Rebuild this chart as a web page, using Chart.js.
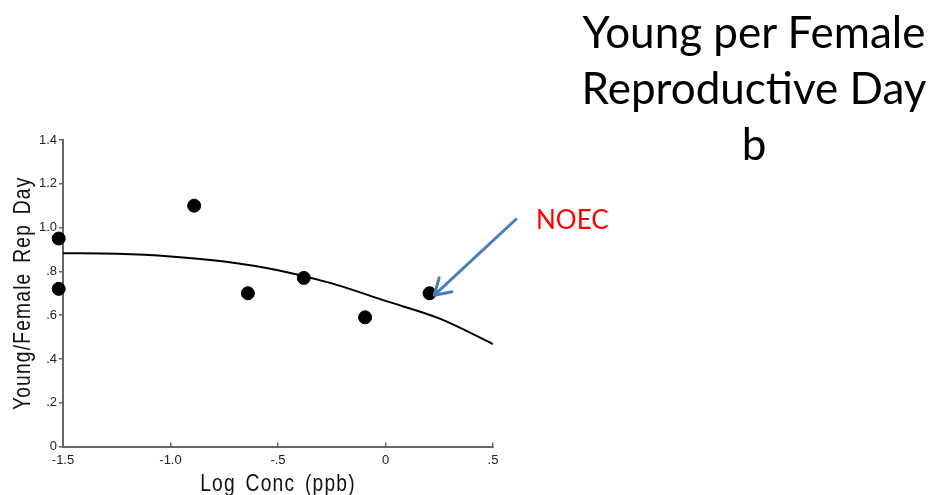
<!DOCTYPE html>
<html>
<head>
<meta charset="utf-8">
<script src="https://cdn.jsdelivr.net/npm/chart.js@4"></script>
<style>
  body { margin: 0; background: #fff; }
  .wrap { position: relative; width: 930px; height: 495px; }
  #chart { position: absolute; left: 0; top: 0; }
  .title { position: absolute; left: 559px; width: 390px; top: 3px; text-align: center;
    font-family: Lato, sans-serif; font-size: 44px; line-height: 56px; color: #000; }
  .noec { position: absolute; left: 536px; top: 203px; font-family: Lato, sans-serif;
    font-size: 26px; color: #ff0000; }
</style>
</head>
<body>
<div class="wrap">
  <canvas id="chart" width="930" height="495"></canvas>
  <div class="title">Young per Female<br>Reproductive Day<br>b</div>
  <div class="noec">NOEC</div>
</div>
<script>
// observed points (left pair kept apart so chart.js treats data as unsorted and draws both)
const concX = [-1.52, -0.89, -0.64, -0.38, -0.095, 0.205, -1.52];
const youngY = [0.95, 1.10, 0.70, 0.77, 0.59, 0.70, 0.72];
// fitted curve
const fitX = [-1.5, -1.25, -1.0, -0.75, -0.5, -0.25, 0, 0.25, 0.5];
const fitY = [0.883, 0.880, 0.868, 0.845, 0.805, 0.745, 0.665, 0.585, 0.468];
// NOEC arrow, data units
const arrowFrom = [0.607, 1.038];
const arrowTo = [0.227, 0.691];
const xTitle = 'Log Conc (ppb)';
const yTitle = 'Young/Female Rep Day';

const fmt = v => {
  if (Math.abs(v) < 1e-9) return '0';
  let s = v.toFixed(1);
  return s.replace(/^(-?)0\./, '$1.');
};

const arrowPlugin = {
  id: 'arrow',
  afterDatasetsDraw(chart) {
    const { ctx, scales: { x, y } } = chart;
    const x1 = x.getPixelForValue(arrowFrom[0]), y1 = y.getPixelForValue(arrowFrom[1]);
    const x2 = x.getPixelForValue(arrowTo[0]), y2 = y.getPixelForValue(arrowTo[1]);
    const a = Math.atan2(y2 - y1, x2 - x1);
    ctx.save();
    ctx.strokeStyle = '#4a7ebb';
    ctx.lineWidth = 3;
    ctx.lineCap = 'round';
    ctx.beginPath();
    ctx.moveTo(x1, y1);
    ctx.lineTo(x2, y2);
    [-0.55, 0.55].forEach(d => {
      ctx.moveTo(x2, y2);
      ctx.lineTo(x2 - 18 * Math.cos(a + d), y2 - 18 * Math.sin(a + d));
    });
    ctx.stroke();
    ctx.restore();
  }
};

// condensed, letter-spaced axis titles like the original
const axisTitles = {
  id: 'axisTitles',
  afterDraw(chart) {
    const { ctx, chartArea } = chart;
    const put = (txt, cx, cy, rot) => {
      ctx.save();
      ctx.translate(cx, cy);
      if (rot) ctx.rotate(-Math.PI / 2);
      ctx.scale(0.8, 1);
      ctx.fillStyle = '#111';
      ctx.font = '24px "Liberation Sans", Arial, sans-serif';
      ctx.letterSpacing = '1.5px';
      ctx.wordSpacing = '4px';
      ctx.textAlign = 'center';
      ctx.textBaseline = 'alphabetic';
      ctx.fillText(txt, 0, 0);
      ctx.restore();
    };
    put(xTitle, (chartArea.left + chartArea.right) / 2, 491, false);
    put(yTitle, 30, (chartArea.top + chartArea.bottom) / 2, true);
  }
};

new Chart(document.getElementById('chart'), {
  type: 'scatter',
  data: {
    datasets: [{
      data: concX.map((v, i) => ({ x: v, y: youngY[i] })),
      backgroundColor: '#000',
      borderColor: '#000',
      pointRadius: 6.5,
      clip: false
    }, {
      type: 'line',
      data: fitX.map((v, i) => ({ x: v, y: fitY[i] })),
      borderColor: '#000',
      borderWidth: 2,
      pointRadius: 0,
      cubicInterpolationMode: 'monotone',
      fill: false
    }]
  },
  options: {
    responsive: false,
    animation: false,
    layout: { padding: { left: 0, top: 140, right: 437, bottom: 0 } },
    plugins: { legend: { display: false }, tooltip: { enabled: false } },
    scales: {
      x: {
        type: 'linear', min: -1.5, max: 0.5,
        ticks: { stepSize: 0.5, callback: fmt, color: '#222', padding: 10,
          font: { family: 'Liberation Sans', size: 13 } },
        grid: { drawOnChartArea: false, tickLength: -4, color: '#666', lineWidth: 1.5 },
        border: { color: '#666', width: 2 },
        afterFit: s => { s.height = 48.5; }
      },
      y: {
        min: 0, max: 1.4,
        ticks: { stepSize: 0.2, callback: fmt, color: '#222', padding: 2,
          font: { family: 'Liberation Sans', size: 13 } },
        grid: { drawOnChartArea: false, tickLength: 4, color: '#666', lineWidth: 1.5 },
        border: { color: '#666', width: 2 },
        afterFit: s => { s.width = 63; }
      }
    }
  },
  plugins: [arrowPlugin, axisTitles]
});
</script>
</body>
</html>
